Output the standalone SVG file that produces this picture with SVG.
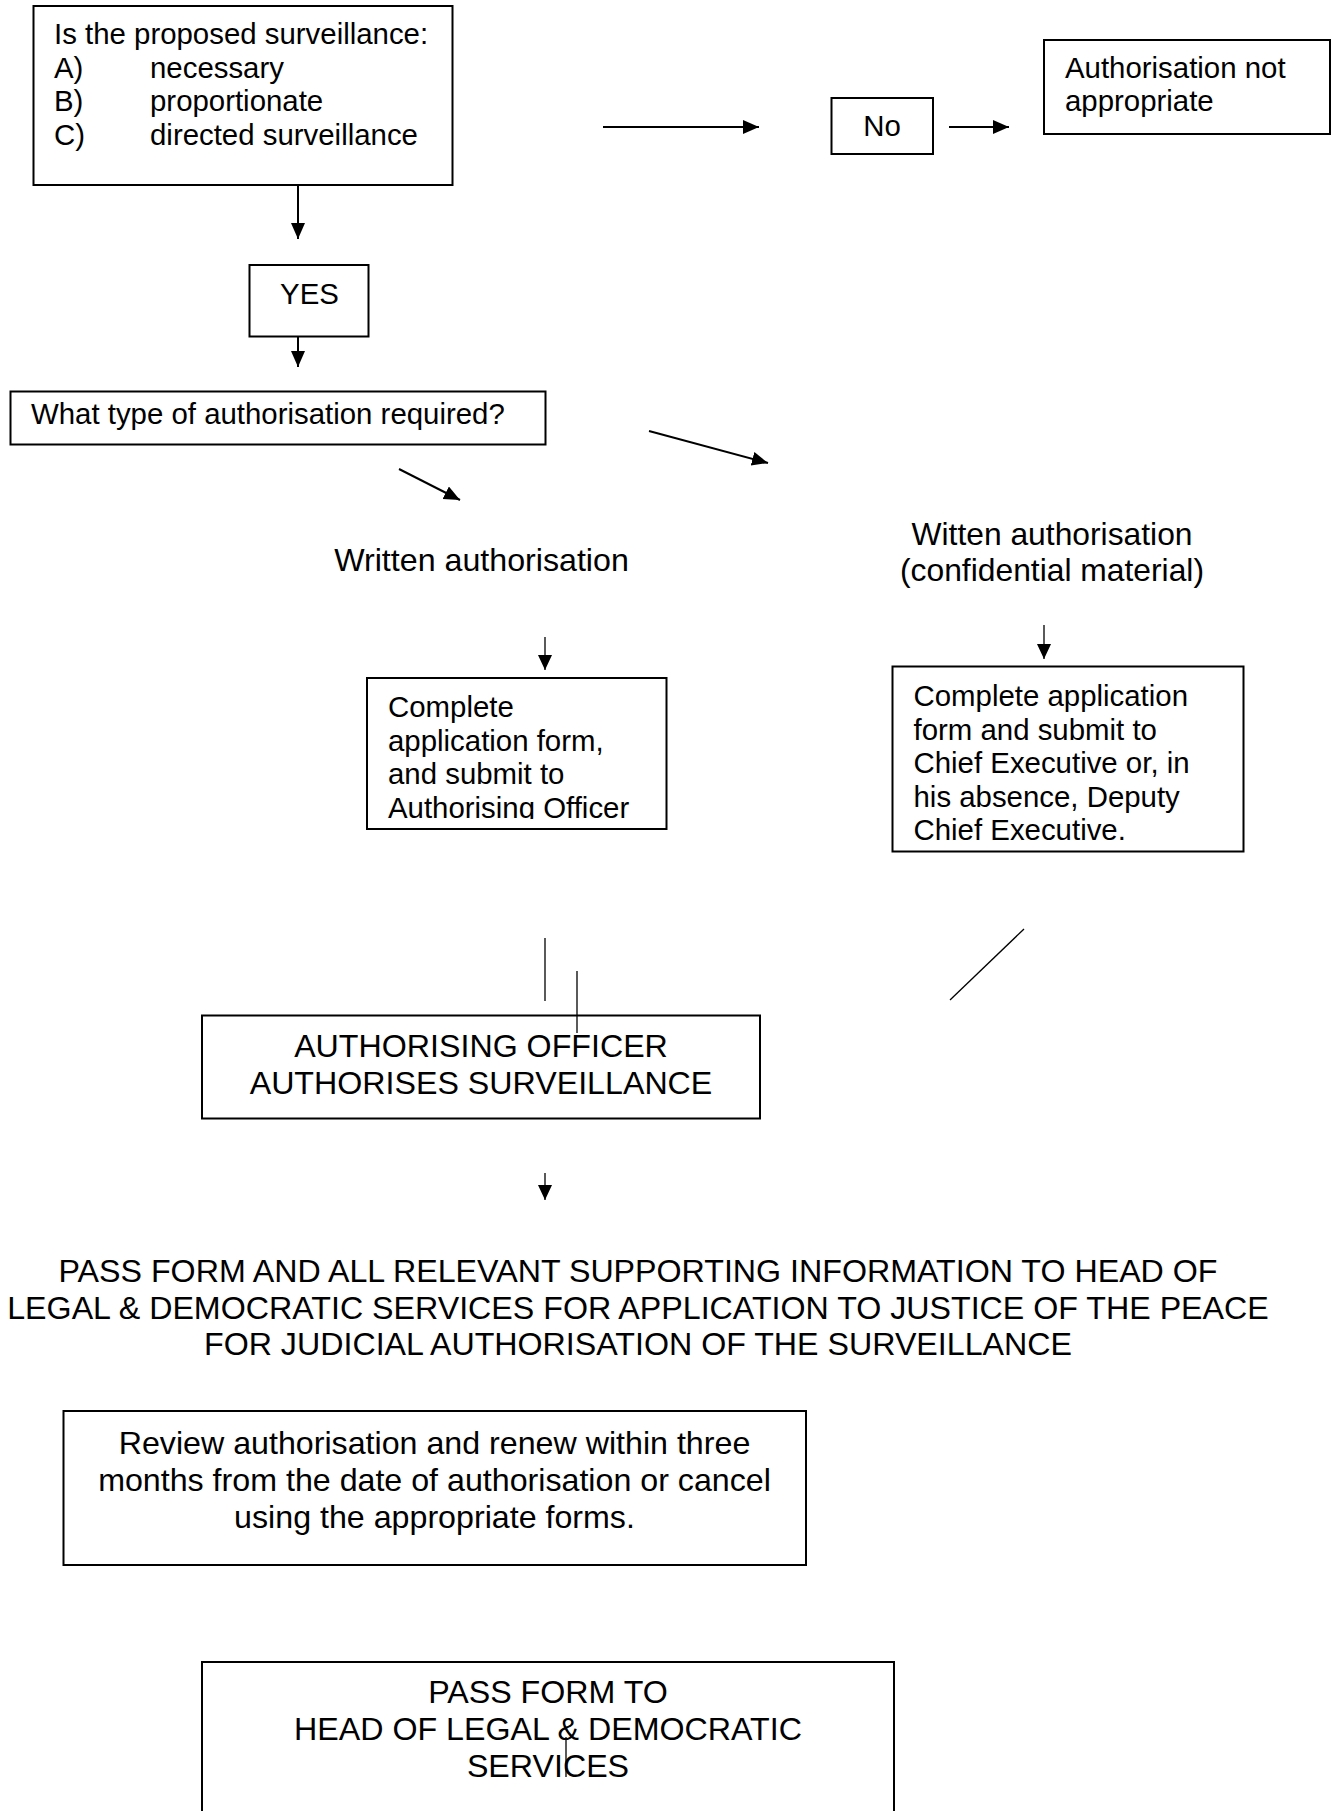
<svg xmlns="http://www.w3.org/2000/svg" width="1335" height="1811" viewBox="0 0 1335 1811">
<style>
  .box { fill: #ffffff; stroke: #000000; stroke-width: 2; }
  .t { font-family: "Liberation Sans", Arial, sans-serif; fill: #000000; }
  .s29 { font-size: 29.4px; }
  .s32 { font-size: 32.2px; }
  .s30 { font-size: 31.8px; }
  .mid { text-anchor: middle; }
  .thick { stroke: #000000; stroke-width: 2; fill: none; }
  .thin { stroke: #000000; stroke-width: 1.3; fill: none; }
</style>
<defs>
  <marker id="ah" markerUnits="userSpaceOnUse" markerWidth="17" markerHeight="15" refX="16" refY="7" orient="auto">
    <path d="M0,0 L16,7 L0,14 Z" fill="#000000"/>
  </marker>
  <marker id="ahs" markerUnits="userSpaceOnUse" markerWidth="16" markerHeight="15" refX="15" refY="7" orient="auto">
    <path d="M0,0 L15,7 L0,14 Z" fill="#000000"/>
  </marker>
  <clipPath id="clipLeft">
    <rect x="367" y="678" width="300" height="141"/>
  </clipPath>
</defs>
<rect x="0" y="0" width="1335" height="1811" fill="#ffffff"/>

<g id="node-question">
  <rect class="box" x="33.5" y="6" width="419" height="179"/>
  <text class="t s29" x="54" y="44">Is the proposed surveillance:</text>
  <text class="t s29" x="54" y="77.5">A)</text>
  <text class="t s29" x="150" y="77.5">necessary</text>
  <text class="t s29" x="54" y="111">B)</text>
  <text class="t s29" x="150" y="111">proportionate</text>
  <text class="t s29" x="54" y="144.5">C)</text>
  <text class="t s29" x="150" y="144.5">directed surveillance</text>
</g>

<g id="node-no">
  <rect class="box" x="831.5" y="98" width="101.5" height="56"/>
  <text class="t s29 mid" x="882" y="136">No</text>
</g>

<g id="node-not-appropriate">
  <rect class="box" x="1044" y="40" width="286" height="94"/>
  <text class="t s29" x="1065" y="78">Authorisation not</text>
  <text class="t s29" x="1065" y="111">appropriate</text>
</g>

<g id="node-yes">
  <rect class="box" x="249.5" y="265" width="119" height="71.5"/>
  <text class="t s29 mid" x="309.5" y="304">YES</text>
</g>

<g id="node-type">
  <rect class="box" x="10.5" y="391.5" width="535" height="53"/>
  <text class="t s29" x="31" y="424">What type of authorisation required?</text>
</g>

<g id="node-written">
  <text class="t s32 mid" x="481.5" y="570.5">Written authorisation</text>
</g>

<g id="node-written-conf">
  <text class="t s30 mid" x="1052" y="545">Witten authorisation</text>
  <text class="t s30 mid" x="1052" y="580.5">(confidential material)</text>
</g>

<g id="node-complete-ao">
  <rect class="box" x="367" y="678" width="299.5" height="151"/>
  <g clip-path="url(#clipLeft)">
    <text class="t s29" x="388" y="717">Complete</text>
    <text class="t s29" x="388" y="750.5">application form,</text>
    <text class="t s29" x="388" y="784">and submit to</text>
    <text class="t s29" x="388" y="817.5">Authorising Officer</text>
  </g>
</g>

<g id="node-complete-ce">
  <rect class="box" x="892.5" y="666.5" width="351" height="185"/>
  <text class="t s29" x="913.5" y="706">Complete application</text>
  <text class="t s29" x="913.5" y="739.5">form and submit to</text>
  <text class="t s29" x="913.5" y="773">Chief Executive or, in</text>
  <text class="t s29" x="913.5" y="806.5">his absence, Deputy</text>
  <text class="t s29" x="913.5" y="840">Chief Executive.</text>
</g>

<g id="node-ao-authorises">
  <rect class="box" x="202" y="1015.5" width="558" height="103"/>
  <text class="t s32 mid" x="481" y="1057">AUTHORISING OFFICER</text>
  <text class="t s32 mid" x="481" y="1093.5">AUTHORISES SURVEILLANCE</text>
</g>

<g id="node-pass-info">
  <text class="t s32 mid" x="638" y="1282">PASS FORM AND ALL RELEVANT SUPPORTING INFORMATION TO HEAD OF</text>
  <text class="t s32 mid" x="638" y="1318.5">LEGAL &amp; DEMOCRATIC SERVICES FOR APPLICATION TO JUSTICE OF THE PEACE</text>
  <text class="t s32 mid" x="638" y="1355">FOR JUDICIAL AUTHORISATION OF THE SURVEILLANCE</text>
</g>

<g id="node-review">
  <rect class="box" x="63.5" y="1411" width="742.5" height="154"/>
  <text class="t s32 mid" x="434.5" y="1454">Review authorisation and renew within three</text>
  <text class="t s32 mid" x="434.5" y="1491">months from the date of authorisation or cancel</text>
  <text class="t s32 mid" x="434.5" y="1528">using the appropriate forms.</text>
</g>

<g id="node-pass-form">
  <rect class="box" x="202" y="1662" width="692" height="170"/>
  <text class="t s32 mid" x="548" y="1703">PASS FORM TO</text>
  <text class="t s32 mid" x="548" y="1740">HEAD OF LEGAL &amp; DEMOCRATIC</text>
  <text class="t s32 mid" x="548" y="1777">SERVICES</text>
</g>

<g id="connectors">
  <line class="thick" x1="603" y1="127" x2="759" y2="127" marker-end="url(#ah)"/>
  <line class="thick" x1="949" y1="127" x2="1009" y2="127" marker-end="url(#ah)"/>
  <line class="thick" x1="298" y1="185" x2="298" y2="239" marker-end="url(#ah)"/>
  <line class="thick" x1="298" y1="337" x2="298" y2="367" marker-end="url(#ah)"/>
  <line class="thick" x1="649" y1="431" x2="768" y2="463" marker-end="url(#ah)"/>
  <line class="thick" x1="399" y1="469" x2="460" y2="500" marker-end="url(#ah)"/>
  <line class="thin" x1="545" y1="637" x2="545" y2="670" marker-end="url(#ahs)"/>
  <line class="thin" x1="1044" y1="625" x2="1044" y2="659" marker-end="url(#ahs)"/>
  <line class="thin" x1="545" y1="938" x2="545" y2="1001"/>
  <line class="thin" x1="577" y1="971" x2="577" y2="1033"/>
  <line class="thin" x1="1024" y1="929" x2="950" y2="1000"/>
  <line class="thin" x1="545" y1="1173" x2="545" y2="1200" marker-end="url(#ahs)"/>
  <line class="thin" x1="566" y1="1737" x2="566" y2="1777"/>
</g>
</svg>
